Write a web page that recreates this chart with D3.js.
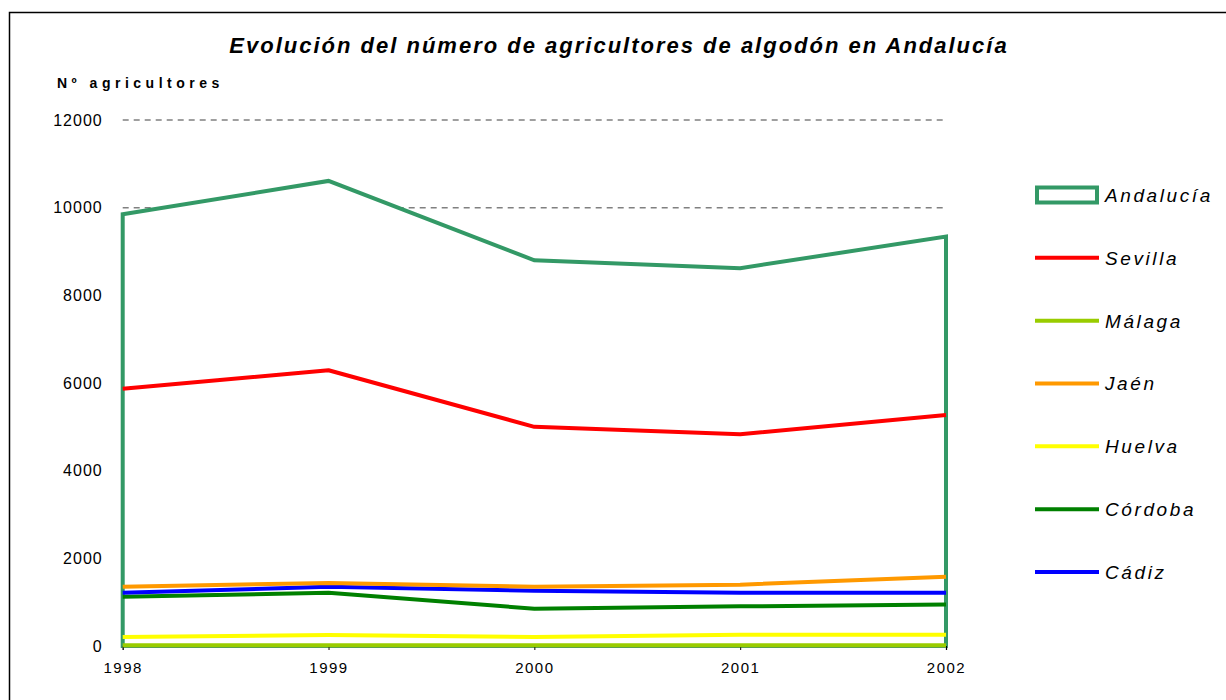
<!DOCTYPE html>
<html>
<head>
<meta charset="utf-8">
<script src="https://cdn.jsdelivr.net/npm/d3@7"></script>
<style>
  html, body { margin: 0; padding: 0; background: #fff; }
  svg { display: block; font-family: "Liberation Sans", Arial, sans-serif; }
</style>
</head>
<body>
<svg id="chart" width="1226" height="700"></svg>
<script>
// ---- data ----
const years = ["1998", "1999", "2000", "2001", "2002"];
const yTicks = [0, 2000, 4000, 6000, 8000, 10000, 12000];
const seriesNames = ["Andalucía", "Sevilla", "Málaga", "Jaén", "Huelva", "Córdoba", "Cádiz"];
const andalucia = [9850, 10610, 8800, 8620, 9340];
const sevilla   = [5870, 6290, 5000, 4830, 5270];
const malaga    = [15, 15, 15, 15, 15];
const jaen      = [1350, 1440, 1350, 1400, 1580];
const huelva    = [205, 250, 205, 255, 255];
const cordoba   = [1125, 1215, 850, 905, 945];
const cadiz     = [1215, 1350, 1260, 1215, 1215];
const colors = ["#339966", "#ff0000", "#99cc00", "#ff9900", "#ffff00", "#008000", "#0000ff"];
const titleText = "Evolución del número de agricultores de algodón en Andalucía";
const yLabelText = "Nº agricultores";

const lineSeries = [
  { name: "Sevilla", values: sevilla, color: colors[1] },
  { name: "Málaga", values: malaga, color: colors[2] },
  { name: "Jaén", values: jaen, color: colors[3] },
  { name: "Huelva", values: huelva, color: colors[4] },
  { name: "Córdoba", values: cordoba, color: colors[5] },
  { name: "Cádiz", values: cadiz, color: colors[6] }
];
// drawing order (back to front), as in the reference
const drawOrder = ["Málaga", "Huelva", "Córdoba", "Cádiz", "Jaén", "Sevilla"];

const svg = d3.select("#chart");

// frame
svg.append("rect")
  .attr("x", 9.5).attr("y", 12.5)
  .attr("width", 1400).attr("height", 900)
  .attr("fill", "none").attr("stroke", "#000").attr("stroke-width", 1.5);

const x = d3.scalePoint().domain(years).range([122.7, 946]);
const y = d3.scaleLinear().domain([0, 12000]).range([646, 120]);

// gridlines
svg.append("g")
  .selectAll("line")
  .data(yTicks.filter(d => d > 0))
  .join("line")
  .attr("x1", x(years[0])).attr("x2", x(years[years.length - 1]))
  .attr("y1", d => y(d)).attr("y2", d => y(d))
  .attr("stroke", "#808080").attr("stroke-width", 1.5)
  .attr("stroke-dasharray", "6,5");

// Andalucía area (white fill covers gridlines)
const area = d3.area()
  .x((d, i) => x(years[i]))
  .y0(y(0))
  .y1(d => y(d));
svg.append("path")
  .datum(andalucia)
  .attr("d", area)
  .attr("fill", "#fff")
  .attr("stroke", colors[0])
  .attr("stroke-width", 4)
  .attr("stroke-linejoin", "miter");

// x axis
const xAxis = svg.append("g")
  .attr("transform", `translate(0,${y(0)})`)
  .call(d3.axisBottom(x).tickSize(4).tickPadding(12));
xAxis.select(".domain").attr("stroke", "#808080").attr("stroke-width", 1.5);
xAxis.selectAll(".tick line").attr("stroke", "#000").attr("stroke-width", 1);
xAxis.selectAll(".tick text")
  .attr("fill", "#000")
  .style("font-size", "15px")
  .style("letter-spacing", "1.5px");

// y axis (labels only)
const yAxis = svg.append("g")
  .attr("transform", `translate(${x(years[0])},0)`)
  .call(d3.axisLeft(y).tickValues(yTicks).tickFormat(d3.format("d")).tickSize(0).tickPadding(20));
yAxis.select(".domain").remove();
yAxis.selectAll(".tick text")
  .attr("fill", "#000")
  .style("font-size", "16px")
  .style("letter-spacing", "1px");

// lines
const line = d3.line()
  .x((d, i) => x(years[i]))
  .y(d => y(d));
drawOrder.forEach(name => {
  const s = lineSeries.find(l => l.name === name);
  svg.append("path")
    .datum(s.values)
    .attr("d", line)
    .attr("fill", "none")
    .attr("stroke", s.color)
    .attr("stroke-width", 4)
    .attr("stroke-linejoin", "round");
});

// title
svg.append("text")
  .attr("x", 619).attr("y", 53)
  .attr("text-anchor", "middle")
  .style("font-size", "22px")
  .style("font-weight", "bold")
  .style("font-style", "italic")
  .style("letter-spacing", "2px")
  .text(titleText);

// y label
svg.append("text")
  .attr("x", 57).attr("y", 88)
  .style("font-size", "14px")
  .style("font-weight", "bold")
  .style("letter-spacing", "4.5px")
  .text(yLabelText);

// legend
const legend = svg.append("g");
const legY = d3.scalePoint().domain(seriesNames).range([195, 572]);
seriesNames.forEach((name, i) => {
  const g = legend.append("g").attr("transform", `translate(0,${legY(name)})`);
  if (i === 0) {
    g.append("rect")
      .attr("x", 1037).attr("y", -7.5)
      .attr("width", 60).attr("height", 15)
      .attr("fill", "#fff")
      .attr("stroke", colors[i]).attr("stroke-width", 4);
  } else {
    g.append("line")
      .attr("x1", 1035).attr("x2", 1099)
      .attr("y1", 0).attr("y2", 0)
      .attr("stroke", colors[i]).attr("stroke-width", 4);
  }
  g.append("text")
    .attr("x", 1105).attr("y", 0)
    .attr("dy", "0.36em")
    .style("font-size", "19px")
    .style("font-style", "italic")
    .style("letter-spacing", "2.6px")
    .text(name);
});
</script>
</body>
</html>
